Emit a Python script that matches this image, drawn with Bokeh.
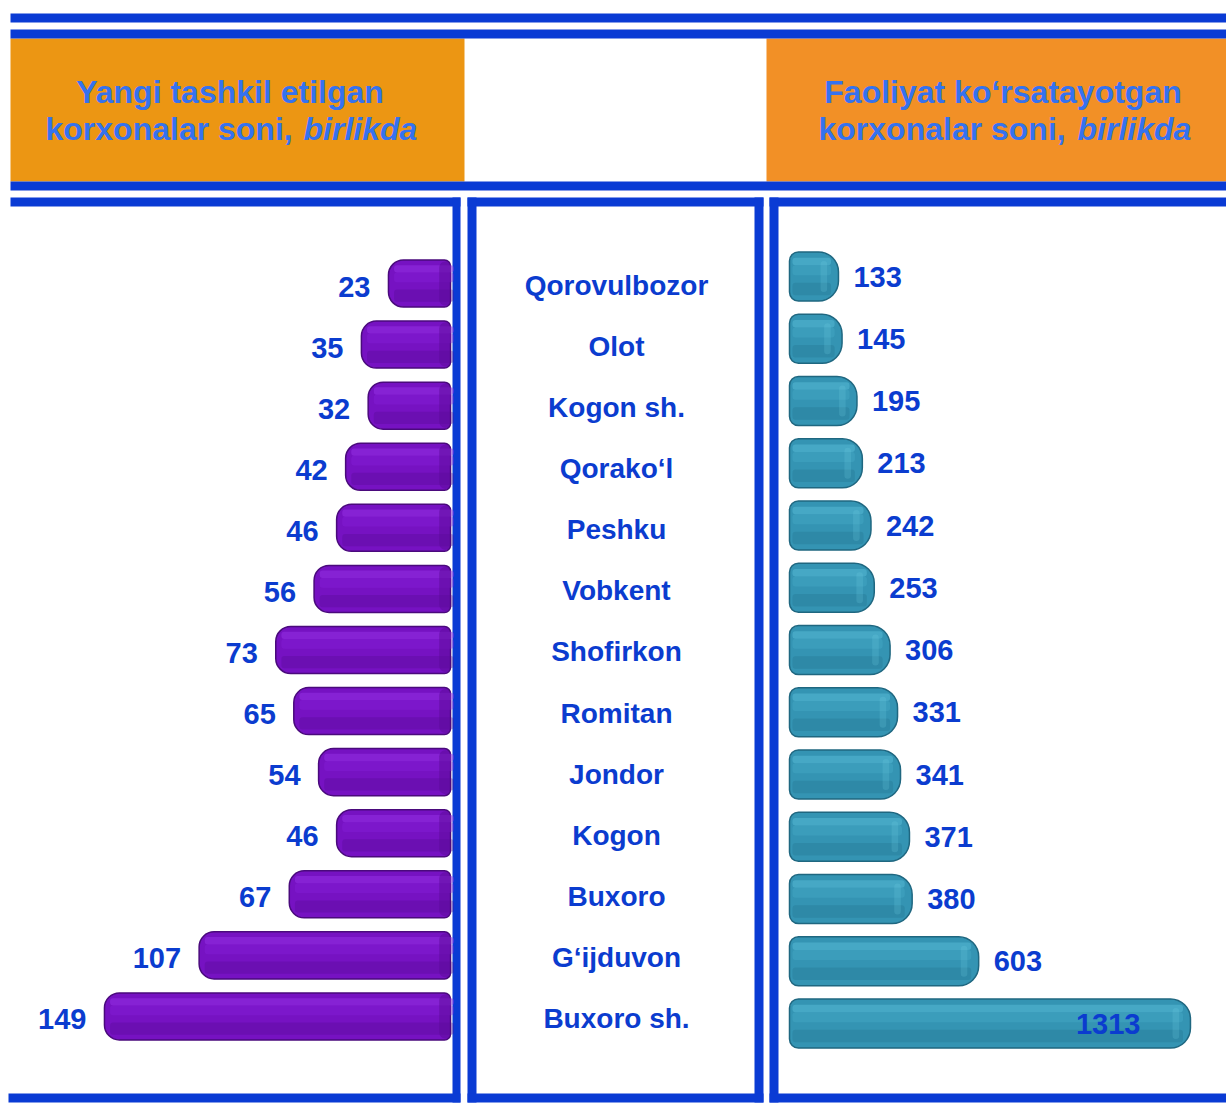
from bokeh.plotting import figure
from bokeh.models import Range1d, ColumnDataSource
from bokeh.embed import file_html
from bokeh.resources import INLINE
from bokeh.core.properties import value

# ---------------- data ----------------
regions = ["Qorovulbozor", "Olot", "Kogon sh.", "Qorako\u2018l", "Peshku", "Vobkent",
           "Shofirkon", "Romitan", "Jondor", "Kogon", "Buxoro", "G\u2018ijduvon", "Buxoro sh."]
new_enterprises = [23, 35, 32, 42, 46, 56, 73, 65, 54, 46, 67, 107, 149]
active_enterprises = [133, 145, 195, 213, 242, 253, 306, 331, 341, 371, 380, 603, 1313]
left_title = ["Yangi tashkil etilgan", "korxonalar soni,", "birlikda"]
right_title = ["Faoliyat ko\u2018rsatayotgan", "korxonalar soni,", "birlikda"]

# ---------------- style ----------------
BLUE = "#0a3bd4"
LABEL = "#0b3ccf"
HEAD = "#3572ef"
FONT = value("Liberation Sans")

W, H = 1226, 1104
p = figure(width=W, height=H, x_range=Range1d(0, W), y_range=Range1d(H, 0),
           output_backend="svg", toolbar_location=None, min_border=0,
           x_axis_location=None, y_axis_location=None)
p.grid.visible = False
p.outline_line_color = None
p.background_fill_color = "white"
p.border_fill_color = "white"

n = len(regions)
rows = [n - 1 - i for i in range(n)]  # first region on top

# scales for the two bar panels (layout anchors in page pixels)
L0, LS = 439.8, 2.254      # zero position / px per unit, left panel (grows leftwards)
R0, RS = 798.3, 0.2983     # zero position / px per unit, right panel
LY0, LYS = 283.0, 61.08    # first row centre / row pitch, left + names
RY0, RYS = 276.0, 62.25    # right panel rows
p.extra_x_ranges = {
    "L": Range1d(L0 / LS, (L0 - W) / LS),
    "R": Range1d(-R0 / RS, (W - R0) / RS),
}
p.extra_y_ranges = {
    "L": Range1d((n - 1) - (H - LY0) / LYS, (n - 1) + LY0 / LYS),
    "R": Range1d((n - 1) - (H - RY0) / RYS, (n - 1) + RY0 / RYS),
}
LBASE = (L0 - 450) / LS
RBASE = (789 - R0) / RS

# ---------------- decorations ----------------
p.quad(left=[10, 766], right=[464, 1226], top=[38, 38], bottom=[181, 181],
       fill_color=["#ec9613", "#f29026"], line_color=None)
bars = [
    (10, 1226, 13, 22), (10, 1226, 29, 38), (10, 1226, 181, 190),
    (10, 460, 197, 206), (467, 763, 197, 206), (769, 1226, 197, 206),
    (452, 460, 197, 1102), (467, 476, 197, 1102), (754, 763, 197, 1102), (769, 778, 197, 1102),
    (8, 460, 1093, 1102), (467, 763, 1093, 1102), (769, 1226, 1093, 1102),
]
p.quad(left=[b[0] for b in bars], right=[b[1] for b in bars],
       top=[b[2] for b in bars], bottom=[b[3] for b in bars],
       fill_color=BLUE, line_color=None)

# ---------------- headers ----------------
hs = "32px"
p.text(x=[229.5, 1002.5], y=[91, 91], text=[left_title[0], right_title[0]],
       text_font=FONT, text_font_style="bold", text_font_size=hs, text_color=HEAD,
       text_align="center", text_baseline="alphabetic")
p.text(x=[45, 818], y=[128, 128], text=[left_title[1], right_title[1]],
       text_font=FONT, text_font_style="bold", text_font_size=hs, text_color=HEAD,
       text_align="left", text_baseline="alphabetic")
p.text(x=[303, 1077], y=[128, 128], text=[left_title[2], right_title[2]],
       text_font=FONT, text_font_style="bold italic", text_font_size=hs, text_color=HEAD,
       text_align="left", text_baseline="alphabetic")

# ---------------- left bars ----------------
ls = ColumnDataSource(dict(y=rows, v=new_enterprises,
                           y1=[r + 0.24 for r in rows], y2=[r + 0.1 for r in rows],
                           y3=[r - 0.2 for r in rows],
                           vi=[v - 2.5 for v in new_enterprises],
                           lab=[str(v) for v in new_enterprises]))
p.hbar(y="y", left="v", right=LBASE, height=0.77, source=ls,
       x_range_name="L", y_range_name="L",
       fill_color="#7612c2", line_color="#4a0a7c", line_width=1.5,
       border_radius=(15, 6, 6, 15))
for yc, hh, col, al in (("y1", 0.12, "#9c38ec", 0.45), ("y2", 0.16, "#8a22dc", 0.35),
                        ("y3", 0.2, "#540a8e", 0.3)):
    p.hbar(y=yc, left="vi", right=LBASE - 1.5, height=hh, source=ls,
           x_range_name="L", y_range_name="L",
           fill_color=col, fill_alpha=al, line_color=None, border_radius=3)
p.hbar(y="y", left=LBASE + 5.0, right=LBASE + 0.3, height=0.72, source=ls,
       x_range_name="L", y_range_name="L",
       fill_color="#5c0a98", fill_alpha=0.5, line_color=None,
       border_radius=(6, 4, 4, 6))
p.text(x="v", y="y", text="lab", source=ls, x_range_name="L", y_range_name="L",
       x_offset=-18, y_offset=3, text_align="right", text_baseline="alphabetic",
       text_font=FONT, text_font_style="bold", text_font_size="29px", text_color=LABEL)

# ---------------- region names ----------------
ns = ColumnDataSource(dict(y=rows, name=regions))
p.text(x=616, y="y", text="name", source=ns, y_range_name="L",
       y_offset=2, text_align="center", text_baseline="alphabetic",
       text_font=FONT, text_font_style="bold", text_font_size="28px", text_color=LABEL)

# ---------------- right bars ----------------
vmax = max(active_enterprises)
rs = ColumnDataSource(dict(y=rows, v=active_enterprises,
                           y1=[r + 0.24 for r in rows], y2=[r + 0.1 for r in rows],
                           y3=[r - 0.2 for r in rows],
                           vi=[v - 25 for v in active_enterprises],
                           vc0=[v - 60 for v in active_enterprises],
                           vc1=[v - 38 for v in active_enterprises],
                           lab=[str(v) for v in active_enterprises],
                           xo=[-50 if v == vmax else 15 for v in active_enterprises],
                           al=["right" if v == vmax else "left" for v in active_enterprises]))
p.hbar(y="y", left=RBASE, right="v", height=0.79, source=rs,
       x_range_name="R", y_range_name="R",
       fill_color="#3494b3", line_color="#1f6780", line_width=1.5,
       border_radius=(9, 20, 20, 9))
for yc, hh, col, al in (("y1", 0.12, "#5ec0dc", 0.45), ("y2", 0.16, "#4aaecb", 0.35),
                        ("y3", 0.2, "#21708a", 0.3)):
    p.hbar(y=yc, left=RBASE + 10, right="vi", height=hh, source=rs,
           x_range_name="R", y_range_name="R",
           fill_color=col, fill_alpha=al, line_color=None, border_radius=3)
p.hbar(y="y", left="vc0", right="vc1", height=0.5, source=rs,
       x_range_name="R", y_range_name="R",
       fill_color="#72d0e8", fill_alpha=0.2, line_color=None,
       border_radius=6)
p.text(x="v", y="y", text="lab", source=rs, x_range_name="R", y_range_name="R",
       x_offset="xo", y_offset=0, text_align="al", text_baseline="alphabetic",
       text_font=FONT, text_font_style="bold", text_font_size="29px", text_color=LABEL)

open("out.html", "w").write(file_html(p, INLINE))
